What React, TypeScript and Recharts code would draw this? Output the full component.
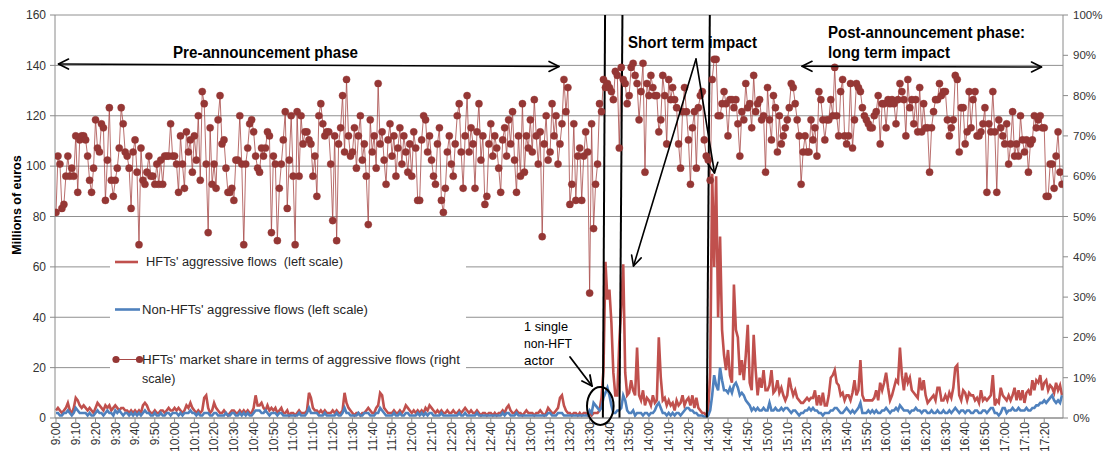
import React from "react";
import { ComposedChart, Line, XAxis, YAxis, CartesianGrid, ReferenceLine } from "recharts";

// Tick labels every 10 minutes (category index = minutes since 9:00)
const tickLabels = [
  "9:00","9:10","9:20","9:30","9:40","9:50",
  "10:00","10:10","10:20","10:30","10:40","10:50",
  "11:00","11:10","11:20","11:30","11:40","11:50",
  "12:00","12:10","12:20","12:30","12:40","12:50",
  "13:00","13:10","13:20","13:30","13:40","13:50",
  "14:00","14:10","14:20","14:30","14:40","14:50",
  "15:00","15:10","15:20","15:30","15:40","15:50",
  "16:00","16:10","16:20","16:30","16:40","16:50",
  "17:00","17:10","17:20",
];

const leftTicks = [0, 20, 40, 60, 80, 100, 120, 140, 160];
const rightTicks = [0, 10, 20, 30, 40, 50, 60, 70, 80, 90, 100];

// HFTs' market share in terms of aggressive flows (%), one value per minute
const shareSeries = [
  51,65,63,52,53,60,65,60,62,60, 70,56,69,70,70,69,65,59,56,62,
  74,67,66,73,72,54,64,77,59,55, 59,62,67,77,73,66,65,62,52,66,
  69,61,43,67,59,58,61,65,60,60, 58,63,58,64,58,65,65,65,73,65,
  65,63,56,70,63,57,71,66,69,61, 70,64,75,59,81,78,63,46,72,58,
  63,57,74,80,68,69,62,56,56,57, 54,64,64,75,63,43,63,67,73,74,
  71,65,62,61,67,65,67,71,70,46, 65,63,44,57,63,69,76,52,64,75,
  60,43,76,60,75,68,71,71,69,68, 60,65,55,75,78,73,70,71,71,63,
  49,70,44,68,72,80,66,84,70,65, 66,72,62,70,75,64,68,60,48,74,
  66,70,62,83,68,71,64,58,69,73, 65,70,60,67,72,63,70,66,61,68,
  60,71,67,54,54,69,75,74,66,70, 64,60,58,68,72,54,51,57,66,70,
  63,60,68,75,78,66,57,70,80,66, 72,68,57,71,78,64,70,53,55,68,
  73,65,70,67,62,56,69,72,65,74, 68,76,64,56,70,60,78,61,70,67,
  74,66,79,70,63,71,45,68,75,64, 66,78,70,75,63,68,73,84,76,82,
  53,58,73,54,65,67,54,65,71,66, 31,73,47,58,63,78,76,84,82,83,
  82,81,79,86,85,67,87,84,83,78, 80,87,88,85,83,74,81,88,61,83,
  80,85,82,80,80,71,74,85,80,68, 84,79,82,79,77,68,62,76,82,76,
  69,58,72,76,62,77,80,81,69,65, 64,59,84,89,89,75,75,78,81,78,
  70,79,79,77,79,73,65,76,74,83, 77,78,72,85,76,78,79,74,75,61,
  82,74,69,80,77,66,75,68,70,72, 74,77,83,82,78,74,70,58,66,70,
  66,66,74,69,72,65,81,79,74,69, 74,74,79,75,87,75,70,81,84,70,
  68,70,83,67,74,83,82,81,77,75, 74,73,72,72,75,76,80,68,78,78,
  72,79,78,79,78,73,79,83,81,79, 70,84,77,79,73,79,71,82,71,78,
  72,72,61,72,76,79,79,83,80,81, 81,74,70,72,74,85,84,66,77,77,
  68,71,81,72,79,81,70,70,71,73, 77,56,73,71,81,71,56,74,72,70,
  68,73,63,68,76,65,68,65,75,69, 66,69,61,68,69,75,72,74,75,72,
  72,55,55,63,63,57,65,71,61,58,
];

// HFTs' aggressive flows (millions of euros), one value per minute
const hftFlows = [
  3,4,3,2,3,4,6,3,2,4, 8,7,5,4,5,4,3,4,3,2,
  4,6,5,4,3,5,4,5,3,4, 5,4,3,4,4,3,3,2,3,2,
  3,2,3,2,5,6,5,3,2,2, 3,2,2,3,3,2,3,4,3,3,
  4,3,4,3,2,3,5,4,6,4, 3,2,3,2,3,8,9,4,2,3,
  6,4,3,2,2,3,2,1,2,3, 3,2,2,3,2,3,2,3,2,2,
  4,9,5,5,6,4,3,5,3,4, 3,4,2,3,4,2,2,3,1,2,
  2,1,2,3,2,2,2,3,10,8, 4,3,3,2,3,2,3,2,2,2,
  3,2,3,2,2,3,10,6,4,3, 2,1,2,2,1,2,2,3,4,3,
  2,2,4,5,10,9,4,3,2,2, 2,3,2,2,3,2,3,5,4,3,
  2,3,2,3,2,3,2,4,3,5, 4,3,2,3,2,3,2,2,3,2,
  2,3,2,2,3,2,3,4,3,2, 3,2,2,3,2,1,2,2,1,2,
  2,1,2,1,2,2,3,2,4,5, 3,2,2,3,2,2,1,2,3,2,
  2,2,1,2,2,3,2,1,2,4, 3,2,2,3,4,8,9,5,3,2,
  2,1,2,2,1,2,1,2,2,1, 2,1,2,2,2,3,8,19,62,47,
  51,38,18,9,9,30,44,61,18,9, 10,15,11,9,28,9,7,11,5,8,
  7,5,9,6,7,32,16,7,8,5, 7,5,6,3,7,5,6,9,5,7,
  8,5,9,4,8,4,3,2,2,1, 3,18,97,60,96,40,72,35,25,19,
  27,17,14,53,35,32,17,23,15,25, 37,14,11,33,19,9,16,12,19,11,
  11,13,19,10,11,15,10,12,9,7, 9,16,12,9,11,8,7,6,6,7,
  8,7,8,8,11,5,9,5,10,5, 5,9,16,17,19,14,13,9,10,7,
  9,9,7,10,15,9,11,23,9,7, 7,7,7,7,8,11,7,14,11,14,
  18,12,7,9,12,15,14,28,17,11, 18,14,16,11,10,9,8,16,11,15,
  9,6,7,8,9,7,12,12,7,7, 9,7,10,8,12,20,21,9,7,11,
  10,7,10,9,9,7,8,6,11,7, 8,7,8,9,17,5,7,6,12,9,
  8,7,9,7,9,12,7,11,7,11, 6,10,11,9,15,11,15,14,17,11,
  14,15,11,13,12,10,14,11,13,9,
];

// Non-HFTs' aggressive flows (millions of euros), one value per minute
const nonHftFlows = [
  2,2,1,1,2,2,3,2,1,2, 4,3,2,2,2,2,1,2,1,1,
  2,3,2,2,1,2,3,2,2,1, 3,2,3,2,1,2,2,1,2,1,
  2,1,2,1,2,3,2,2,1,1, 2,1,1,2,1,1,2,2,1,2,
  2,2,1,2,1,2,2,2,3,2, 2,1,2,1,1,2,2,2,1,1,
  2,2,1,1,1,1,2,1,1,2, 2,1,1,2,1,2,1,2,1,1,
  2,3,3,3,2,2,3,2,1,2, 2,2,1,2,2,1,1,1,1,1,
  1,1,1,2,1,1,1,2,4,2, 2,2,2,1,1,1,2,1,1,1,
  1,1,2,1,1,2,4,2,2,1, 1,1,1,2,1,1,2,2,2,1,
  1,1,2,2,4,3,2,1,1,1, 1,2,1,1,2,1,1,2,2,1,
  1,1,1,2,1,2,1,2,1,2, 2,1,1,1,1,2,1,1,1,1,
  1,1,1,1,2,1,1,2,1,1, 1,1,1,2,1,1,1,1,1,1,
  1,1,1,1,1,1,2,1,2,2, 1,1,1,2,1,1,1,1,1,1,
  1,1,1,1,1,1,1,1,1,2, 2,1,1,1,2,2,2,1,1,1,
  1,1,1,1,1,1,1,1,1,1, 3,2,6,5,4,3,4,8,10,12,
  9,5,2,2,3,3,4,9,7,3, 2,2,3,1,2,2,2,1,2,2,
  1,2,2,3,5,6,4,2,2,1, 2,1,2,1,2,2,1,2,3,4,
  4,3,3,2,2,1,1,1,0.5,0.3, 1,3,9,17,13,11,20,15,11,11,
  10,12,10,13,14,12,9,10,9,7, 6,5,3,4,3,4,3,3,4,3,
  3,6,3,3,4,3,3,4,3,4, 4,3,2,3,3,2,1,2,2,3,
  3,4,3,4,3,3,2,2,1,2, 2,2,3,3,4,4,3,2,2,3,
  4,3,2,3,2,3,4,6,2,2, 2,3,2,3,2,3,2,2,3,3,
  4,3,2,3,3,4,3,5,4,3, 3,3,2,3,3,4,3,3,2,3,
  3,2,2,3,2,2,3,2,2,3, 2,2,3,2,3,4,3,2,3,3,
  2,3,3,2,2,3,3,2,2,3, 3,2,3,4,4,2,2,1,2,4,
  4,2,3,3,4,3,3,4,3,3, 3,4,3,3,4,4,5,5,6,6,
  7,6,7,8,9,7,6,7,6,9,
];

// Hand-drawn vertical separators (minute-index at bottom / top)
const eventLines = [
  [276.7, 277.8],
  [285.1, 286.6],
  [329.3, 330.8],
];

const N = Math.min(shareSeries.length, hftFlows.length, nonHftFlows.length);
const data = Array.from({ length: N }, (_, i) => ({
  i,
  hft: hftFlows[i],
  nonHft: nonHftFlows[i],
  share: shareSeries[i],
}));
const xTicks = tickLabels.map((_, k) => k * 10);

const FONT = "'Liberation Sans', Arial, sans-serif";
const AXIS = "#8a8a8a";
const TXT = "#333333";

const TimeTick = (props: any) => {
  const { x, y, payload } = props;
  const label = tickLabels[Math.round(payload.value / 10)];
  return (
    <text
      x={x}
      y={y}
      transform={`rotate(-90, ${x}, ${y})`}
      textAnchor="end"
      dy="0.36em"
      fontSize={12}
      fill={TXT}
      fontFamily={FONT}
    >
      {label}
    </text>
  );
};

function head(tx: number, ty: number, fx: number, fy: number, len = 10, half = 5) {
  const dx = tx - fx;
  const dy = ty - fy;
  const L = Math.hypot(dx, dy);
  const ux = dx / L;
  const uy = dy / L;
  const bx = tx - ux * len;
  const by = ty - uy * len;
  const px = -uy;
  const py = ux;
  return `M${bx + px * half},${by + py * half} L${tx},${ty} L${bx - px * half},${by - py * half}`;
}

function Arrow({ x1, y1, x2, y2, both = false, w = 1.6 }: any) {
  return (
    <g stroke="#000" strokeWidth={w} fill="none" strokeLinecap="round" strokeLinejoin="round">
      <line x1={x1} y1={y1} x2={x2} y2={y2} />
      <path d={head(x2, y2, x1, y1)} />
      {both && <path d={head(x1, y1, x2, y2)} />}
    </g>
  );
}

export default function App() {
  return (
    <div style={{ position: "absolute", left: 0, top: 0, width: 1104, height: 457, background: "#fff" }}>
      <ComposedChart
        width={1104}
        height={457}
        data={data}
        margin={{ top: 15, right: 0, bottom: 0, left: 0 }}
      >
        <CartesianGrid yAxisId="left" vertical={false} horizontal stroke="#909090" strokeWidth={1} />
        <XAxis
          dataKey="i"
          type="number"
          domain={[-0.5, 509.5]}
          ticks={xTicks}
          interval={0}
          tick={<TimeTick />}
          tickSize={4}
          tickMargin={0}
          height={39}
          stroke={AXIS}
          allowDataOverflow
        />
        <YAxis
          yAxisId="left"
          orientation="left"
          domain={[0, 160]}
          ticks={leftTicks}
          width={55}
          tickSize={5}
          tickMargin={4}
          stroke={AXIS}
          tick={{ fill: TXT, fontSize: 12, fontFamily: FONT }}
          allowDataOverflow
        />
        <YAxis
          yAxisId="right"
          orientation="right"
          domain={[0, 100]}
          ticks={rightTicks}
          width={41}
          tickSize={5}
          tickMargin={5}
          stroke={AXIS}
          tickFormatter={(v: number) => `${v}%`}
          tick={{ fill: TXT, fontSize: 11.5, fontFamily: FONT }}
          allowDataOverflow
        />
        <Line
          yAxisId="left"
          dataKey="hft"
          stroke="#c0504d"
          strokeWidth={2.6}
          dot={false}
          activeDot={false}
          isAnimationActive={false}
        />
        <Line
          yAxisId="left"
          dataKey="nonHft"
          stroke="#4f81bd"
          strokeWidth={2.6}
          dot={false}
          activeDot={false}
          isAnimationActive={false}
        />
        <Line
          yAxisId="right"
          dataKey="share"
          stroke="#a84a48"
          strokeOpacity={0.8}
          strokeWidth={1}
          dot={{ r: 3.6, fill: "#953735", stroke: "#953735", strokeWidth: 0.5 }}
          activeDot={false}
          isAnimationActive={false}
        />
        {eventLines.map(([b, t], k) => (
          <ReferenceLine
            key={k}
            yAxisId="left"
            segment={[{ x: b, y: 0 }, { x: t, y: 160 }]}
            stroke="#000"
            strokeWidth={2}
            ifOverflow="visible"
          />
        ))}
      </ComposedChart>

      <svg
        width={1104}
        height={457}
        style={{ position: "absolute", left: 0, top: 0, pointerEvents: "none" }}
      >
        {/* Y axis title */}
        <text
          x={0}
          y={0}
          transform="translate(21, 205) rotate(-90)"
          textAnchor="middle"
          fontSize={12.5}
          fontWeight="bold"
          fill="#000"
          fontFamily={FONT}
        >
          Millions of euros
        </text>

        {/* Legend */}
        <rect x={110} y={251} width={356} height={137} fill="#fff" />
        <line x1={115} y1={262} x2={138} y2={262} stroke="#c0504d" strokeWidth={2.6} />
        <text x={146} y={266} fontSize={12.5} fill="#262626" fontFamily={FONT} textLength={197} lengthAdjust="spacingAndGlyphs" style={{ whiteSpace: "pre" }}>
          {"HFTs' aggressive flows  (left scale)"}
        </text>
        <line x1={115} y1={309.5} x2={140} y2={309.5} stroke="#4f81bd" strokeWidth={2.6} />
        <text x={142} y={314} fontSize={12.5} fill="#262626" fontFamily={FONT} textLength={226} lengthAdjust="spacingAndGlyphs">
          Non-HFTs' aggressive flows (left scale)
        </text>
        <line x1={116} y1={359.5} x2={139.5} y2={359.5} stroke="#a84a48" strokeWidth={1} />
        <circle cx={116} cy={359.5} r={3.6} fill="#953735" />
        <circle cx={139.5} cy={359.5} r={3.6} fill="#953735" />
        <text x={142} y={364} fontSize={12.5} fill="#262626" fontFamily={FONT} textLength={318} lengthAdjust="spacingAndGlyphs">
          HFTs' market share in terms of aggressive flows (right
        </text>
        <text x={142} y={382.5} fontSize={12.5} fill="#262626" fontFamily={FONT}>
          scale)
        </text>

        {/* Phase annotations */}
        <text x={173} y={58} fontSize={16} fontWeight="bold" fill="#000" fontFamily={FONT} textLength={185} lengthAdjust="spacingAndGlyphs">
          Pre-announcement phase
        </text>
        <Arrow x1={58.5} y1={64} x2={559} y2={66.5} both />

        <text x={628} y={48} fontSize={16} fontWeight="bold" fill="#000" fontFamily={FONT} textLength={129} lengthAdjust="spacingAndGlyphs">
          Short term impact
        </text>
        <Arrow x1={696} y1={59} x2={633.5} y2={266} />
        <Arrow x1={696} y1={59} x2={714.5} y2={173} />

        <text x={828} y={38} fontSize={16} fontWeight="bold" fill="#000" fontFamily={FONT} textLength={197} lengthAdjust="spacingAndGlyphs">
          Post-announcement phase:
        </text>
        <text x={828} y={57.5} fontSize={16} fontWeight="bold" fill="#000" fontFamily={FONT} textLength={122} lengthAdjust="spacingAndGlyphs">
          long term impact
        </text>
        <Arrow x1={802} y1={66.3} x2={1041.5} y2={67} both />

        {/* Single actor note */}
        <text x={524} y={331} fontSize={13} fill="#000" fontFamily={FONT} textLength={44} lengthAdjust="spacingAndGlyphs">
          1 single
        </text>
        <text x={524} y={348} fontSize={13} fill="#000" fontFamily={FONT} textLength={48} lengthAdjust="spacingAndGlyphs">
          non-HFT
        </text>
        <text x={524} y={364.5} fontSize={13} fill="#000" fontFamily={FONT} textLength={30} lengthAdjust="spacingAndGlyphs">
          actor
        </text>
        <Arrow x1={570} y1={357} x2={592} y2={386} w={1.8} />
        <ellipse cx={600.3} cy={406} rx={13.3} ry={19} fill="none" stroke="#000" strokeWidth={2} />
      </svg>
    </div>
  );
}
